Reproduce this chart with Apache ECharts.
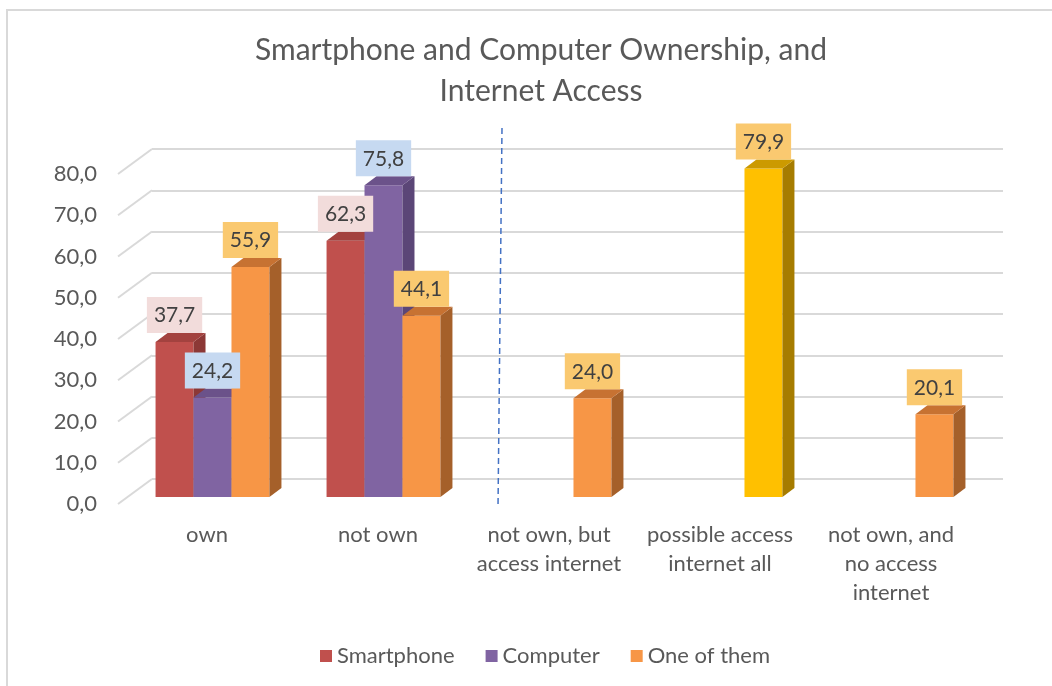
<!DOCTYPE html>
<html>
<head>
<meta charset="utf-8">
<title>Smartphone and Computer Ownership, and Internet Access</title>
<script src="https://cdn.jsdelivr.net/npm/echarts@6/dist/echarts.min.js"></script>
<style>
  html, body { margin: 0; padding: 0; background: #ffffff; }
  #chart { width: 1052px; height: 686px; }
</style>
</head>
<body>
<div id="chart"></div>
<script>
// ---- data ----
const categories = ['own', 'not own', 'not own, but\naccess internet', 'possible access\ninternet all', 'not own, and\nno access\ninternet'];
const seriesNames = ['Smartphone', 'Computer', 'One of them'];
const smartphone = [37.7, 62.3, null, null, null];
const computer = [24.2, 75.8, null, null, null];
const oneOfThem = [55.9, 44.1, 24.0, 79.9, 20.1];
const yTicks = [0, 10, 20, 30, 40, 50, 60, 70, 80];
const highlightIndex = 3; // "possible access internet all" bar is drawn in gold

// ---- style ----
const FONT = 'Lato';
const TEXT = '#595959';
const LABEL_TEXT = '#404040';
const GRID_LINE = '#d9d9d9';
const DEPTH = [12, -9];        // side/top extrusion of each bar
const WALL_DEPTH = [34, -25];  // floor front edge -> back wall

const palette = [
  { front: '#C0504D', side: '#8C3836', top: '#A3423F', label: '#F2DCDB' },
  { front: '#8064A2', side: '#5B4677', top: '#6B528A', label: '#C6D9F1' },
  { front: '#F79646', side: '#A5602A', top: '#C77232', label: '#FAC970' }
];
const gold = { front: '#FFC000', side: '#A67C00', top: '#CC9A00', label: '#FAC970' };

const fmt = v => v.toFixed(1).replace('.', ',');

function barRenderer(slot) {
  return function (params, api) {
    const idx = api.value(0);
    const val = api.value(1);
    if (val == null || isNaN(val)) return null;
    const band = api.size([1, 0])[0];
    const w = band * 0.222;
    const base = api.coord([idx, 0]);
    const top = api.coord([idx, val]);
    const c = (slot === 2 && idx === highlightIndex) ? gold : palette[slot];
    const x0 = base[0] + (slot - 1) * w - w / 2;
    const x1 = x0 + w;
    const yb = base[1];
    const yt = top[1];
    const dx = DEPTH[0], dy = DEPTH[1];
    return {
      type: 'group',
      children: [
        { type: 'rect', z2: slot * 3, shape: { x: x0, y: yt, width: w, height: yb - yt }, style: { fill: c.front } },
        { type: 'polygon', z2: slot * 3 + 1, shape: { points: [[x1, yt], [x1 + dx, yt + dy], [x1 + dx, yb + dy], [x1, yb]] }, style: { fill: c.side } },
        { type: 'polygon', z2: slot * 3 + 2, shape: { points: [[x0, yt], [x0 + dx, yt + dy], [x1 + dx, yt + dy], [x1, yt]] }, style: { fill: c.top } },
        {
          type: 'text', z2: 100,
          x: (x0 + x1) / 2, y: yt + dy,
          style: {
            text: fmt(val), fill: LABEL_TEXT, fontFamily: FONT, fontSize: 21, lineHeight: 21,
            align: 'center', verticalAlign: 'bottom',
            backgroundColor: c.label, padding: [8, 7, 7, 7]
          }
        }
      ]
    };
  };
}

const seriesData = [smartphone, computer, oneOfThem];

const barSeries = seriesData.map((arr, s) => ({
  name: seriesNames[s],
  type: 'custom',
  xAxisIndex: 0,
  yAxisIndex: 0,
  itemStyle: { color: palette[s].front },
  renderItem: barRenderer(s),
  encode: { x: 0, y: 1 },
  data: arr.map((v, i) => [i, v == null ? '-' : v])
}));

const chart = echarts.init(document.getElementById('chart'), null, { renderer: 'canvas' });

chart.setOption({
  animation: false,
  backgroundColor: '#ffffff',
  title: {
    text: 'Smartphone and Computer Ownership, and\nInternet Access',
    left: 536,
    top: 25,
    textAlign: 'center',
    textStyle: { fontFamily: FONT, fontSize: 30, fontWeight: 'normal', color: TEXT, lineHeight: 41 }
  },
  legend: {
    data: seriesNames,
    left: 315,
    top: 640,
    icon: 'rect',
    itemWidth: 12,
    itemHeight: 12,
    itemGap: 31,
    textStyle: { fontFamily: FONT, fontSize: 22, color: TEXT }
  },
  graphic: [
    { type: 'rect', silent: true, z: -1, shape: { x: 7, y: 10, width: 1100, height: 700 }, style: { fill: 'none', stroke: GRID_LINE, lineWidth: 2 } },
    { type: 'line', silent: true, z: 5, shape: { x1: 502, y1: 128, x2: 498, y2: 508 }, style: { stroke: '#4472C4', lineWidth: 1.5, lineDash: [6, 4] } }
  ],
  grid: [
    // front plane: bars and category labels
    { left: 127, right: 70, top: 168, bottom: 189 },
    // back wall: gridlines
    { left: 152, right: 49, top: 149, bottom: 207 },
    // front floor edge: value labels
    { left: 118, right: 83, top: 174, bottom: 182 }
  ],
  xAxis: [
    {
      gridIndex: 0, type: 'category', data: categories,
      axisLine: { show: false }, axisTick: { show: false },
      axisLabel: { interval: 0, margin: 23, fontFamily: FONT, fontSize: 22, lineHeight: 29, color: TEXT, align: 'center', padding: [0, 11, 0, 0] }
    },
    { gridIndex: 1, type: 'value', min: 0, max: 1, show: false },
    { gridIndex: 2, type: 'value', min: 0, max: 1, show: false }
  ],
  yAxis: [
    { gridIndex: 0, type: 'value', min: 0, max: 80, interval: 10, show: false },
    {
      gridIndex: 1, type: 'value', min: 0, max: 80, interval: 10,
      axisLine: { show: false }, axisTick: { show: false }, axisLabel: { show: false },
      splitLine: { show: true, lineStyle: { color: GRID_LINE, width: 2 } }
    },
    {
      gridIndex: 2, type: 'value', min: 0, max: 80, interval: 10,
      axisLine: { show: false }, axisTick: { show: false }, splitLine: { show: false },
      axisLabel: { margin: 21, fontFamily: FONT, fontSize: 22, color: TEXT, formatter: v => fmt(v) }
    }
  ],
  series: [
    {
      // slanted floor-to-wall segments for each gridline
      type: 'custom',
      silent: true,
      xAxisIndex: 1,
      yAxisIndex: 1,
      z: 1,
      renderItem: function (params, api) {
        const b = api.coord([0, api.value(1)]);
        return {
          type: 'line',
          shape: { x1: b[0] - WALL_DEPTH[0], y1: b[1] - WALL_DEPTH[1], x2: b[0], y2: b[1] },
          style: { stroke: GRID_LINE, lineWidth: 2 }
        };
      },
      data: yTicks.map(v => [0, v])
    }
  ].concat(barSeries)
});
</script>
</body>
</html>
